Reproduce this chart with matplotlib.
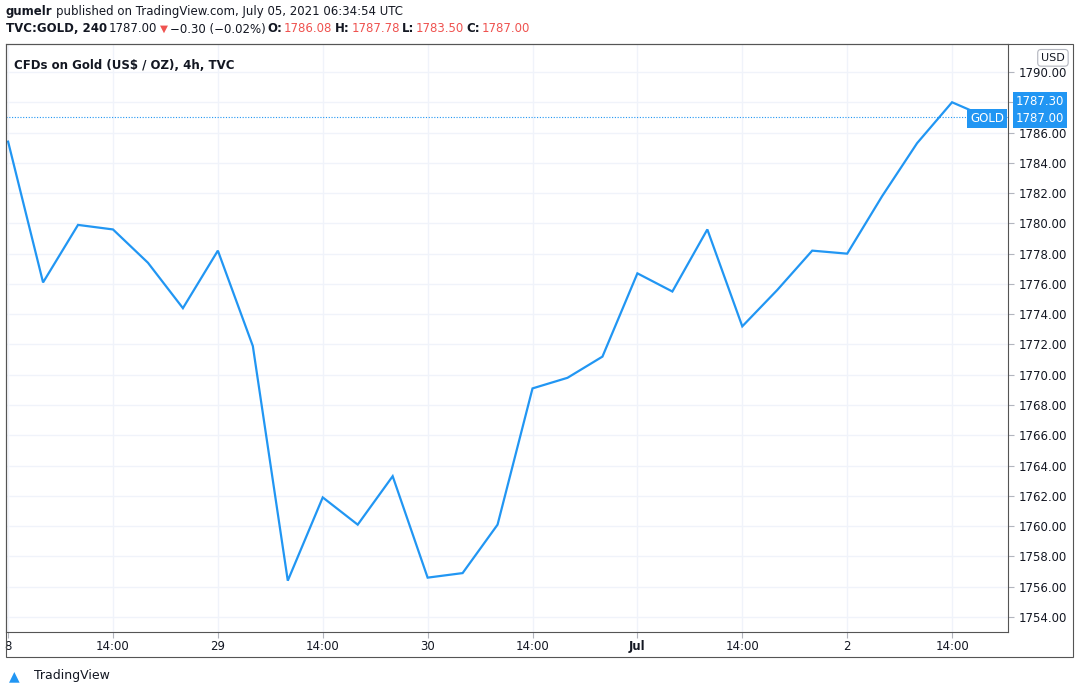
import matplotlib
matplotlib.use('agg')
from matplotlib import pyplot as plt

# 4h closes, one per bar
closes = [1785.4, 1776.1, 1779.9, 1779.6, 1777.4, 1774.4, 1778.2, 1771.9,
          1756.4, 1761.9, 1760.1, 1763.3, 1756.6, 1756.9, 1760.1, 1769.1,
          1769.8, 1771.2, 1776.7, 1775.5, 1779.6, 1773.2, 1775.6, 1778.2,
          1778.0, 1781.8, 1785.3, 1788.0, 1787.0]
tick_pos = [0, 3, 6, 9, 12, 15, 18, 21, 24, 27]
tick_labels = ["8", "14:00", "29", "14:00", "30", "14:00", "Jul", "14:00", "2", "14:00"]
y_ticks = list(range(1754, 1791, 2))

W, H = 1080, 694
fig = plt.figure(figsize=(W / 100, H / 100), dpi=100)
BLUE = '#2196f3'
GRID = '#f0f3fa'
DARK = '#131722'
RED = '#ef5350'

ax = fig.add_axes([6 / W, 1 - 632 / H, (1008 - 6) / W, (632 - 44) / H])
x = list(range(len(closes)))
ax.plot(x, closes, color=BLUE, lw=1.6, solid_joinstyle='miter')
ax.set_xlim(-0.06, 28.6)
ax.set_ylim(1754 - 15 / 15.14, 1790 + 28 / 15.14)
ax.axhline(1787.0, color=BLUE, lw=0.8, ls=(0, (1, 1.5)))
ax.set_xticks(tick_pos)
ax.set_xticklabels(tick_labels, fontsize=8.5, color=DARK)
ax.set_yticks(y_ticks)
ax.set_yticklabels(["" if v == 1788 else f"{v:.2f}" for v in y_ticks], fontsize=8.5, color=DARK)
ax.yaxis.tick_right()
ax.tick_params(axis='both', length=4, color='#b2b5be', pad=2)
ax.tick_params(axis='y', pad=4)
ax.grid(True, color=GRID, lw=1)
for s in ax.spines.values():
    s.set_color('#555555')
    s.set_linewidth(0.8)
for lab in ax.get_xticklabels():
    if lab.get_text() == "Jul":
        lab.set_fontweight('bold')

fig.patches.append(plt.Rectangle((6 / W, 1 - 657 / H), (1073 - 6) / W, (657 - 44) / H,
                                 transform=fig.transFigure, fill=False,
                                 ec='#555555', lw=0.8))

ax.text(0.008, 0.975, "CFDs on Gold (US$ / OZ), 4h, TVC", transform=ax.transAxes,
        fontsize=8.5, fontweight='bold', va='top', color=DARK)
ax.text(1.033, 0.985, "USD", transform=ax.transAxes, fontsize=8, va='top',
        ha='left', color=DARK,
        bbox=dict(boxstyle='round,pad=0.3', fc='white', ec='#b2b5be', lw=0.8))
yt = ax.get_yaxis_transform()
ax.text(1.008, 1788.05, "1787.30", transform=yt, fontsize=8.5, color='white',
        va='center', ha='left', bbox=dict(boxstyle='square,pad=0.25', fc=BLUE, ec='none'))
ax.text(1.008, 1786.95, "1787.00", transform=yt, fontsize=8.5, color='white',
        va='center', ha='left', bbox=dict(boxstyle='square,pad=0.25', fc=BLUE, ec='none'))
ax.text(0.996, 1786.95, "GOLD", transform=yt, fontsize=8.5, color='white',
        va='center', ha='right', bbox=dict(boxstyle='square,pad=0.25', fc=BLUE, ec='none'))

# header lines, chained left to right
renderer = fig.canvas.get_renderer()


def chain(y, parts, x0=6, gap=3):
    xp = x0
    for txt, color, weight, size in parts:
        t = fig.text(xp / W, 1 - y / H, txt, fontsize=size, fontweight=weight,
                     va='center', color=color)
        xp = t.get_window_extent(renderer).x1 + gap


chain(12, [("gumelr", DARK, 'bold', 8.5),
           ("published on TradingView.com, July 05, 2021 06:34:54 UTC", DARK, 'normal', 8.5)])
chain(29, [("TVC:GOLD, 240", DARK, 'bold', 8.5),
           ("1787.00", DARK, 'normal', 8.5),
           ("\u25bc", RED, 'normal', 7.5),
           ("\u22120.30 (\u22120.02%)", DARK, 'normal', 8.5),
           ("O:", DARK, 'bold', 8.5), ("1786.08", RED, 'normal', 8.5),
           ("H:", DARK, 'bold', 8.5), ("1787.78", RED, 'normal', 8.5),
           ("L:", DARK, 'bold', 8.5), ("1783.50", RED, 'normal', 8.5),
           ("C:", DARK, 'bold', 8.5), ("1787.00", RED, 'normal', 8.5)], gap=2)
fig.text(34 / W, 1 - 676 / H, "TradingView", fontsize=9, va='center', color=DARK)
fig.text(9 / W, 1 - 676 / H, "\u25b2", fontsize=10, va='center', color=BLUE)

fig.savefig("out.png", dpi=100)
plt.close(fig)
